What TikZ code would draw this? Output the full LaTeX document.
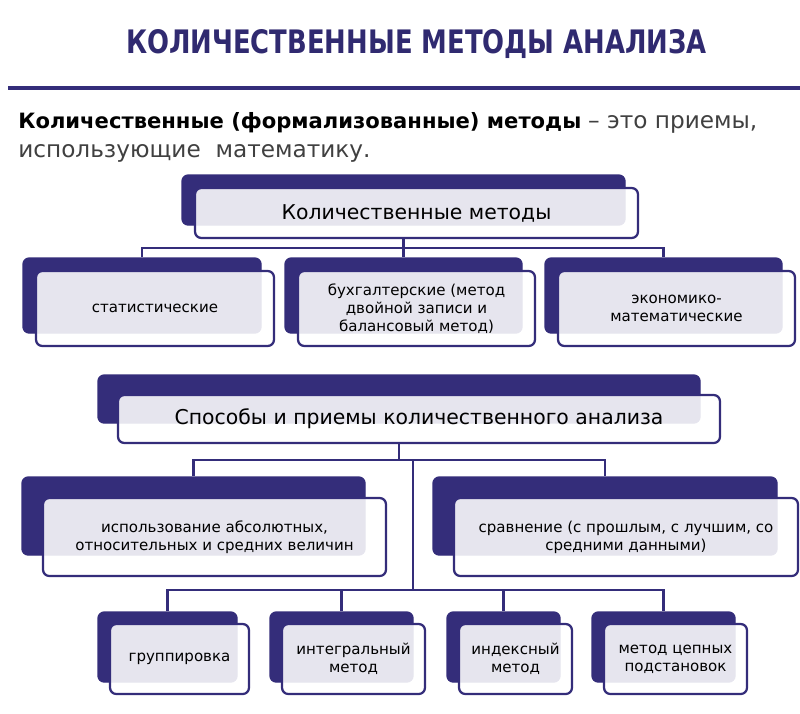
\documentclass[tikz,border=0pt]{standalone}
\usepackage{fontspec}
\setmainfont{DejaVu Sans}
\definecolor{navy}{RGB}{52,45,122}
\definecolor{titlenavy}{RGB}{48,42,112}
\newlength{\unitpx}
\setlength{\unitpx}{0.025cm}
\newcommand{\titlefont}{\fontsize{23}{27}\selectfont\bfseries}
\newcommand{\deffont}{\fontsize{15}{18}\selectfont}
\newcommand{\deflight}{\fontsize{16.5}{19}\selectfont\color{black!75}}
\newcommand{\headfont}{\fontsize{14.5}{17}\selectfont}
\newcommand{\boxfont}{\fontsize{10.7}{13}\selectfont}
\newcommand{\methodbox}[7][]{%
  \node[backbox,minimum width=#4\unitpx,minimum height=#5\unitpx] (#2b) at (#3) {};
  \node[frontbox,minimum width=#4\unitpx,minimum height=#5\unitpx,#1] (#2) at ([shift={(#6,#6)}]#2b.center) {#7};}

\begin{document}
\begin{tikzpicture}[x=0.025cm,y=-0.025cm,
        backbox/.style={rectangle,rounded corners=4.5pt,fill=navy,draw=navy,line width=1pt,inner sep=0pt},
        frontbox/.style={rectangle,rounded corners=4.5pt,draw=navy,line width=1.6pt,fill=white,
          fill opacity=0.88,text opacity=1,inner sep=2pt,align=center,font=\boxfont},
        headbox/.style={font=\headfont},
        link/.style={draw=navy,line width=1.5pt}]
  \useasboundingbox (0,0) rectangle (800,713);
  \node[font=\titlefont,text=titlenavy,xscale=0.8] (title) at (416.5,44) {КОЛИЧЕСТВЕННЫЕ МЕТОДЫ АНАЛИЗА};
  \draw[navy,line width=2.2pt] (8,88) -- (800,88);
  \node[anchor=base west,font=\deffont,inner sep=0pt] (defa) at (18,128)
    {\textbf{Количественные (формализованные) методы} {\deflight– это приемы,}};
  \node[anchor=base west,font=\deflight,inner sep=0pt] (defb) at (18,157) {использующие\ \ математику.};

  \methodbox[headbox]{kol}{403.5,200}{443}{50}{13}{Количественные методы}
  \methodbox{stat}{142,295.5}{238}{75}{13}{статистические}
  \methodbox{buh}{403.5,295.5}{237}{75}{13}{бухгалтерские (метод\\двойной записи и\\балансовый метод)}
  \methodbox{econ}{663.5,295.5}{237}{75}{13}{экономико-\\математические}

  \methodbox[headbox]{sposob}{399,399}{602}{48}{20}{Способы и приемы количественного анализа}
  \methodbox{abs}{193.5,516}{343}{78}{21}{использование абсолютных,\\относительных и средних величин}
  \methodbox{srav}{605,516}{344}{78}{21}{сравнение (с прошлым, с лучшим, со\\средними данными)}

  \methodbox{grup}{167.5,647}{139}{70}{12}{группировка}
  \methodbox{integ}{341.5,647}{143}{70}{12}{интегральный\\метод}
  \methodbox{index}{503.5,647}{113}{70}{12}{индексный\\метод}
  \methodbox{chain}{663.5,647}{143}{70}{12}{метод цепных\\подстановок}

  \coordinate (bus1) at (403.5,248);
  \coordinate (bus2) at (399,460);
  \coordinate (bus3) at (413,590);
  \draw[link] (kol.south -| kolb.center) -- (bus1);
  \draw[link] (statb.north) |- (bus1) -| (econb.north);
  \draw[link] (bus1) -- (buhb.north);
  \draw[link] (sposob.south -| sposobb.center) -- (bus2);
  \draw[link] (absb.north) |- (bus2) -| (sravb.north);
  \draw[link] (bus2 -| bus3) -- (bus3);
  \draw[link] (grupb.north) |- (bus3) -| (chainb.north);
  \draw[link] (integb.north) |- (bus3);
  \draw[link] (indexb.north) |- (bus3);
\end{tikzpicture}
\end{document}
